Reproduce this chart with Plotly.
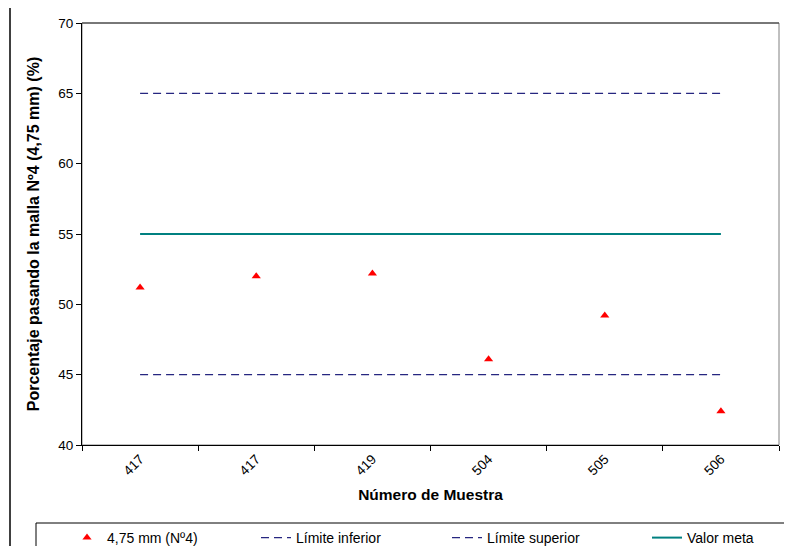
import plotly.graph_objects as go

muestras = ["417", "417", "419", "504", "505", "506"]
pasante = [51.2, 52.0, 52.2, 46.1, 49.2, 42.4]
lim_inf = [45, 45, 45, 45, 45, 45]
lim_sup = [65, 65, 65, 65, 65, 65]
meta = [55, 55, 55, 55, 55, 55]

pos = list(range(len(muestras)))

# page body has an 8px margin: figure placed at (8, 8) in the window
OFF = 8
W, H = 792 - OFF, 546 - OFF
PL, PR, PT, PB = 82, 779, 23, 445  # plot area in window pixels


def px(X):
    return (X - PL) / (PR - PL)


def py(Y):
    return (PB - Y) / (PB - PT)


DASH = dict(color="#262680", width=1.2, dash="8px,5px")

fig = go.Figure()
fig.add_trace(go.Scatter(x=pos, y=pasante, mode="markers", name="4,75 mm (Nº4)",
                         marker=dict(symbol="triangle-up", color="#FF0000", size=8),
                         legend="legend"))
fig.add_trace(go.Scatter(x=pos, y=lim_inf, mode="lines", name="Límite inferior",
                         line=DASH, legend="legend2"))
fig.add_trace(go.Scatter(x=pos, y=lim_sup, mode="lines", name="Límite superior",
                         line=DASH, legend="legend3"))
fig.add_trace(go.Scatter(x=pos, y=meta, mode="lines", name="Valor meta",
                         line=dict(color="#008080", width=2), legend="legend4"))

LEG = dict(orientation="h", xanchor="left", y=py(522), yanchor="top",
           borderwidth=0, bgcolor="rgba(0,0,0,0)", font=dict(size=14))

fig.update_layout(
    width=W, height=H,
    margin=dict(l=PL - OFF, r=W - (PR - OFF), t=PT - OFF, b=H - (PB - OFF), autoexpand=False),
    paper_bgcolor="white", plot_bgcolor="white",
    font=dict(family="Arial, Liberation Sans, sans-serif", size=13, color="black"),
    showlegend=True,
    legend=dict(LEG, x=px(67)),
    legend2=dict(LEG, x=px(256)),
    legend3=dict(LEG, x=px(447)),
    legend4=dict(LEG, x=px(647)),
    xaxis=dict(range=[-0.5, 5.5], tickvals=pos, ticktext=muestras, tickangle=-45,
               ticks="", showgrid=False, zeroline=False, showline=True,
               linecolor="black", linewidth=1, tickfont=dict(size=13.5),
               minor=dict(tick0=-0.5, dtick=1, ticks="outside", ticklen=5,
                          tickcolor="black", showgrid=False),
               title=dict(text="<b>Número de Muestra</b>", font=dict(size=15.5), standoff=11)),
    yaxis=dict(range=[40, 70], dtick=5, ticks="outside", ticklen=5, tickcolor="black",
               showgrid=False, zeroline=False, showline=True, linecolor="black",
               linewidth=1, tickfont=dict(size=13.5),
               title=dict(text="<b>Porcentaje pasando la malla Nº4 (4,75 mm) (%)</b>",
                          font=dict(size=16), standoff=14)),
)

# plot area frame
fig.add_shape(type="rect", xref="paper", yref="paper", x0=0, y0=0, x1=1, y1=1,
              line=dict(color="#808080", width=1), layer="below")
fig.add_shape(type="line", xref="paper", yref="paper", x0=0, y0=1, x1=1, y1=1,
              line=dict(color="#303030", width=1), layer="below")
# outer chart frame
fig.add_shape(type="rect", xref="paper", yref="paper",
              x0=px(10), x1=px(800), y0=py(560), y1=py(6),
              line=dict(color="#404040", width=2), layer="below")
# legend frame
fig.add_shape(type="rect", xref="paper", yref="paper",
              x0=px(36), x1=px(790), y0=py(560), y1=py(523),
              line=dict(color="black", width=1), layer="below")

fig.write_html("out.html")
